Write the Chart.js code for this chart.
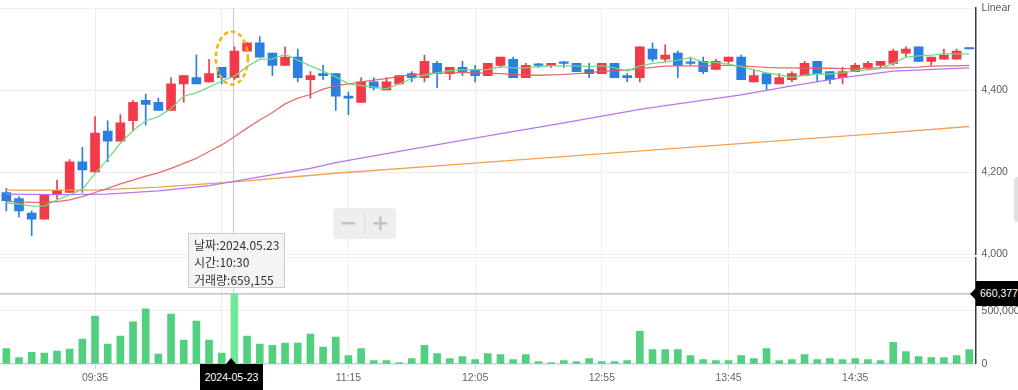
<!DOCTYPE html>
<html><head><meta charset="utf-8">
<script src="https://cdn.jsdelivr.net/npm/chart.js@4.4.1/dist/chart.umd.min.js"></script>
<style>
html,body{margin:0;padding:0;background:#fff;width:1018px;height:390px;overflow:hidden;}
body{position:relative;font-family:"Liberation Sans Narrow","Liberation Sans",Arial,sans-serif;}
canvas{position:absolute;left:0;}
#ca{top:0;}
#cb{top:250px;}
.tip{position:absolute;left:188px;top:233px;width:90px;height:51px;background:rgba(244,244,244,0.96);border:1px solid #c9cbd8;
  font-family:"Noto Sans CJK KR",sans-serif;font-size:12px;line-height:17.3px;color:#333;padding:2px 0 0 5px;box-sizing:content-box;white-space:nowrap;}
.tip div{height:17.3px;}
.xlab{position:absolute;left:200px;top:363.5px;width:63px;height:26.5px;background:#000;color:#fff;font-size:10.5px;line-height:26px;text-align:center;}
.xlab:before{content:"";position:absolute;left:26px;top:-6px;border-left:5.5px solid transparent;border-right:5.5px solid transparent;border-bottom:6px solid #000;}
.ylab{position:absolute;left:976px;top:281px;width:42px;height:25px;background:#000;color:#fff;font-size:10.5px;line-height:25px;padding-left:4px;box-sizing:border-box;white-space:nowrap;overflow:hidden;}
.yarrow{position:absolute;left:970px;top:287.5px;border-top:6px solid transparent;border-bottom:6px solid transparent;border-right:6px solid #000;}
.zoom{position:absolute;left:333px;top:208px;width:63px;height:31px;background:#eeeeee;border-radius:4px;}
.zoom span{position:absolute;top:0;width:31px;height:31px;line-height:29px;text-align:center;color:#c4c4c4;font-family:"DejaVu Sans",sans-serif;font-size:22px;font-weight:bold;}
.zoom .m{left:0;}
.zoom .p{left:32px;}
.zoom .d{position:absolute;left:31px;top:5px;width:1px;height:21px;background:#dcdcdc;}
.scroll{position:absolute;left:1014px;top:177px;width:10px;height:45px;background:#e0e0e0;border-radius:4px;}
</style>
</head><body>
<canvas id="ca" width="1018" height="262"></canvas>
<canvas id="cb" width="1018" height="140"></canvas>
<div class="zoom"><span class="m">−</span><div class="d"></div><span class="p">+</span></div>
<div class="tip" id="tip"></div>
<div class="xlab" id="xlab"></div>
<div class="yarrow"></div>
<div class="ylab" id="ylab"></div>
<div class="scroll"></div>
<script>
const times = ['09:00','09:05','09:10','09:15','09:20','09:25','09:30','09:35','09:40','09:45','09:50','09:55',
'10:00','10:05','10:10','10:15','10:20','10:25','10:30','10:35','10:40','10:45','10:50','10:55',
'11:00','11:05','11:10','11:15','11:20','11:25','11:30','11:35','11:40','11:45','11:50','11:55',
'12:00','12:05','12:10','12:15','12:20','12:25','12:30','12:35','12:40','12:45','12:50','12:55',
'13:00','13:05','13:10','13:15','13:20','13:25','13:30','13:35','13:40','13:45','13:50','13:55',
'14:00','14:05','14:10','14:15','14:20','14:25','14:30','14:35','14:40','14:45','14:50','14:55',
'15:00','15:05','15:10','15:15','15:20'];
const xTickLabels = ['09:35','10:25','11:15','12:05','12:55','13:45','14:35'];

const open  = [4150,4135,4100,4085,4145,4150,4225,4200,4300,4275,4325,4375,4370,4350,4415,4430,4420,4455,4430,4495,
4515,4490,4460,4480,4425,4440,4440,4385,4370,4420,4400,4415,4440,4430,4465,4440,4455,4450,4435,4460,
4475,4430,4460,4460,4465,4465,4450,4440,4465,4435,4430,4500,4475,4490,4465,4470,4450,4470,4480,4420,
4440,4415,4425,4435,4470,4445,4430,4445,4455,4460,4465,4490,4505,4470,4475,4475,4500];
const high  = [4160,4140,4105,4145,4180,4230,4260,4335,4325,4340,4375,4390,4380,4430,4435,4485,4475,4455,4505,4515,
4530,4490,4505,4500,4445,4460,4440,4395,4430,4430,4430,4435,4445,4485,4470,4455,4470,4460,4465,4480,
4480,4465,4465,4465,4470,4465,4465,4465,4465,4440,4505,4515,4510,4495,4480,4480,4475,4480,4485,4450,
4440,4440,4445,4470,4470,4445,4455,4465,4470,4470,4500,4505,4505,4480,4500,4500,4500];
const low   = [4105,4090,4045,4085,4135,4150,4150,4200,4225,4275,4300,4315,4350,4350,4370,4415,4420,4415,4425,4495,
4480,4435,4460,4420,4380,4425,4350,4340,4370,4400,4400,4415,4420,4420,4405,4425,4435,4420,4435,4455,
4430,4430,4455,4455,4455,4445,4430,4440,4430,4420,4420,4470,4470,4430,4460,4440,4450,4465,4425,4420,
4400,4415,4420,4435,4420,4415,4415,4445,4450,4455,4460,4480,4470,4460,4475,4475,4500];
const close = [4130,4105,4085,4145,4155,4225,4205,4295,4275,4320,4370,4365,4350,4415,4435,4415,4440,4430,4495,4515,
4480,4460,4480,4430,4435,4435,4385,4380,4420,4405,4420,4435,4430,4470,4440,4455,4445,4435,4465,4480,
4430,4460,4460,4465,4465,4445,4440,4465,4430,4430,4505,4475,4485,4460,4465,4445,4470,4480,4425,4435,
4415,4430,4440,4465,4440,4425,4445,4460,4465,4470,4495,4500,4470,4480,4485,4495,4500];
const volume = [145000,60000,110000,101000,120000,139000,234000,451000,186000,262000,
395000,518000,92000,470000,224000,404000,224000,101000,659155,262000,
186000,174000,196000,196000,281000,158000,252000,79000,145000,32000,
32000,13000,50000,174000,98000,50000,69000,41000,98000,88000,
41000,88000,22000,13000,32000,22000,50000,22000,22000,32000,
306000,136000,136000,136000,79000,41000,32000,32000,79000,50000,
145000,32000,41000,88000,41000,50000,41000,50000,41000,32000,
202000,117000,69000,60000,60000,79000,136000];
const ma5 = [4125,4122,4117,4117,4132,4144,4158,4196,4232,4270,
4301,4325,4335,4355,4385,4393,4407,4422,4434,4457,
4475,4476,4487,4473,4459,4446,4432,4415,4411,4407,
4403,4415,4428,4436,4442,4447,4449,4449,4450,4457,
4454,4454,4457,4459,4459,4459,4457,4459,4454,4446,
4459,4465,4468,4473,4479,4468,4467,4463,4457,4449,
4442,4437,4431,4436,4439,4439,4442,4447,4449,4452,
4465,4480,4483,4485,4488,4488,4488];
const ma20 = [4129,4127,4126,4126,4128,4132,4140,4150,4160,4171,
4180,4190,4198,4209,4221,4233,4250,4266,4286,4307,
4327,4345,4366,4380,4389,4402,4410,4415,4420,4424,
4428,4433,4437,4439,4441,4442,4443,4442,4441,4440,
4438,4436,4436,4437,4438,4440,4442,4446,4447,4449,
4452,4455,4458,4459,4459,4459,4460,4460,4459,4457,
4455,4454,4454,4453,4453,4453,4452,4452,4453,4454,
4454,4455,4456,4458,4459,4459,4460];
const ma60Points = [['09:00',4146],['09:20',4145],['09:40',4146],['10:00',4154],['10:20',4167],['10:40',4188],
['11:00',4209],['11:10',4223],['11:40',4256],['12:10',4288],['12:40',4320],['13:10',4353],['13:20',4362],
['13:50',4388],['14:10',4410],['14:30',4430],['14:50',4446],['15:20',4454]];
const ma120Points = [['09:00',4156],['09:35',4156],['10:00',4163],['10:30',4176],['11:10',4197],['11:50',4215],
['12:30',4233],['13:20',4256],['14:00',4274],['14:40',4292],['15:20',4311]];
const priceTicks = [4000,4200,4400,4600];
const volumeTicks = [0,500000,1000000];

const hoverTime = '10:30';
const crossVolume = 660377;
const tipLines = ['날짜:2024.05.23','시간:10:30','거래량:659,155'];
const xLabelText = '2024-05-23';
const yLabelText = '660,377';
const markPrice = 4478;

const RED='#f23a4a', BLUE='#2a7fe0';
const hoverIdx = times.indexOf(hoverTime);
const candleColors = close.map((c,i)=> c>open[i] ? RED : BLUE);
const FONT = {family:'"Liberation Sans Narrow","Liberation Sans",Arial,sans-serif', size:10.5};
const gridX = ctx => xTickLabels.includes(times[ctx.index]) ? '#eeeeee' : 'rgba(0,0,0,0)';
const tickX = ctx => xTickLabels.includes(times[ctx.index]) ? '#c9d1e0' : 'rgba(0,0,0,0)';
const fitY = s => { s.width = 42.4; s.paddingTop = 0; s.paddingBottom = 0; };

document.getElementById('tip').innerHTML = tipLines.map(t=>'<div>'+t+'</div>').join('');
document.getElementById('xlab').textContent = xLabelText;
document.getElementById('ylab').textContent = yLabelText;

const crossA = {
  id:'crossA',
  beforeDatasetsDraw(chart){
    const c=chart.ctx, a=chart.chartArea, x=chart.scales.x.getPixelForValue(hoverIdx);
    c.save(); c.strokeStyle='#c8c8c8'; c.lineWidth=1; c.beginPath();
    c.moveTo(Math.round(x)-0.5, a.top); c.lineTo(Math.round(x)-0.5, chart.height); c.stroke(); c.restore();
  },
  afterDatasetsDraw(chart){
    const c=chart.ctx, x=chart.scales.x.getPixelForValue(hoverIdx)-2.5, y=chart.scales.y.getPixelForValue(markPrice);
    c.save(); c.strokeStyle='#f6b40a'; c.lineWidth=2.6; c.setLineDash([4.5,3.2]);
    c.beginPath(); c.ellipse(x, y, 16, 26.5, 0, 0, Math.PI*2); c.stroke(); c.restore();
  }
};
const crossB = {
  id:'crossB',
  beforeDatasetsDraw(chart){
    const c=chart.ctx, a=chart.chartArea, x=chart.scales.x.getPixelForValue(hoverIdx), y=chart.scales.y.getPixelForValue(crossVolume);
    c.save(); c.strokeStyle='#c8c8c8'; c.lineWidth=1; c.beginPath();
    c.moveTo(Math.round(x)-0.5, 0); c.lineTo(Math.round(x)-0.5, a.bottom); c.stroke();
    c.lineWidth=1.5; c.strokeStyle='#c4c4c4'; c.beginPath(); c.moveTo(0, y); c.lineTo(a.right, y); c.stroke();
    c.restore();
  }
};

const lineDs = (label, data, color, extra) => Object.assign({type:'line', label, data, borderColor:color, borderWidth:1.3,
  pointRadius:0, tension:0, order:0, fill:false}, extra||{});

new Chart(document.getElementById('ca'), {
  type:'bar',
  data:{labels:times, datasets:[
    lineDs('MA5', ma5, 'rgba(110,218,125,0.95)'),
    lineDs('MA20', ma20, 'rgba(232,92,92,0.9)'),
    lineDs('MA60', ma60Points.map(([x,y])=>({x,y})), 'rgba(178,112,240,0.95)', {spanGaps:true}),
    lineDs('MA120', ma120Points.map(([x,y])=>({x,y})), 'rgba(240,156,70,0.95)', {spanGaps:true}),
    {label:'body', data:open.map((o,i)=>[o,close[i]]), backgroundColor:candleColors, barThickness:9, minBarLength:1.5, grouped:false, order:5},
    {label:'wick', data:low.map((l,i)=>[l,high[i]]), backgroundColor:candleColors, barThickness:1, minBarLength:1, grouped:false, order:6}
  ]},
  options:{
    responsive:false, animation:false, devicePixelRatio:1,
    layout:{padding:{top:8,bottom:8,left:-1,right:0}},
    plugins:{legend:{display:false}, tooltip:{enabled:false}},
    scales:{
      x:{type:'category', offset:true, grid:{offset:false, drawTicks:false, color:gridX}, border:{display:false}, ticks:{display:false, autoSkip:false}},
      y:{position:'right', min:priceTicks[0], max:priceTicks[priceTicks.length-1],
         afterBuildTicks:s=>{s.ticks=priceTicks.map(v=>({value:v}));},
         ticks:{font:FONT, color:'#5a5a5a', padding:6, callback:v=> v===4600 ? 'Linear' : v.toLocaleString('en-US')},
         grid:{color:'#eeeeee', drawTicks:false}, border:{color:'#3c3c3c', width:1.5},
         afterFit:fitY}
    }
  },
  plugins:[crossA]
});

new Chart(document.getElementById('cb'), {
  type:'bar',
  data:{labels:times, datasets:[
    {label:'volume', data:volume, backgroundColor:volume.map((v,i)=> i===hoverIdx ? '#70e79a' : '#52d07f'), barThickness:7}
  ]},
  options:{
    responsive:false, animation:false, devicePixelRatio:1,
    layout:{padding:{top:7.7,bottom:2.5,left:-1,right:0}},
    plugins:{legend:{display:false}, tooltip:{enabled:false}},
    scales:{
      x:{type:'category', offset:true, grid:{offset:false, drawTicks:true, tickLength:5, color:gridX, tickColor:tickX},
         border:{color:'#cdd4e2', width:1.5},
         ticks:{autoSkip:false, maxRotation:0, padding:3, font:FONT, color:'#666', callback:(v,i)=> xTickLabels.includes(times[i]) ? times[i] : ''}},
      y:{position:'right', min:volumeTicks[0], max:volumeTicks[volumeTicks.length-1],
         afterBuildTicks:s=>{s.ticks=volumeTicks.map(v=>({value:v}));},
         ticks:{font:FONT, color:'#5a5a5a', padding:6, callback:v=> v===1000000 ? '' : v.toLocaleString('en-US')},
         grid:{color:'#eeeeee', drawTicks:false}, border:{color:'#3c3c3c', width:1.5},
         afterFit:fitY}
    }
  },
  plugins:[crossB]
});
</script>
</body></html>
